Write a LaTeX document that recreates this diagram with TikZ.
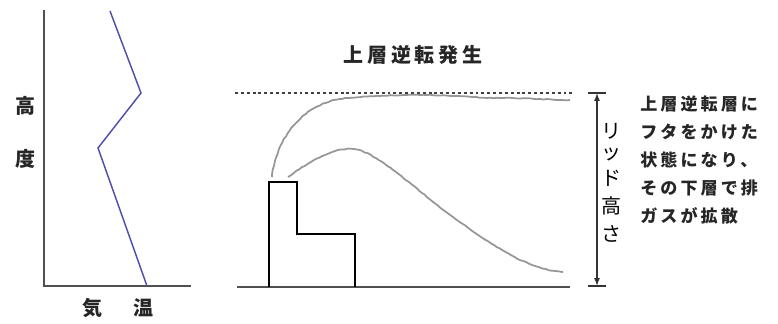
\documentclass[tikz,border=0pt]{standalone}
\usepackage{fontspec}
\setmainfont{Noto Sans CJK JP}
\newfontfamily\jptitle{Noto Sans CJK JP}[LetterSpace=19]
\newfontfamily\jpnote{Noto Sans CJK JP}[LetterSpace=18]
\usetikzlibrary{arrows.meta,decorations.pathmorphing}
\definecolor{axisgray}{RGB}{80,80,80}
\definecolor{profileblue}{RGB}{80,80,170}
\definecolor{plumegray}{RGB}{150,150,150}
\tikzset{
  axisline/.style={draw=axisgray,line width=1.5pt},
  profile/.style={draw=profileblue,line width=1.1pt,line join=miter},
  groundline/.style={draw=axisgray,line width=1.4pt},
  stack/.style={draw=black,line width=1.4pt,line join=miter},
  plume/.style={draw=plumegray,line width=1.3pt,line join=round,
    decorate,decoration={random steps,segment length=2.5pt,amplitude=0.3pt}},
  lidline/.style={draw=black!75,line width=0.9pt,dash pattern=on 2.2pt off 2.2pt},
  lidarrow/.style={draw=black!80,line width=0.9pt,{Latex[length=6pt,width=4.5pt]}-{Latex[length=6pt,width=4.5pt]}},
  tick/.style={draw=black!80,line width=0.9pt},
  lbl/.style={inner sep=0pt,font=\bfseries\fontsize{15pt}{15pt}\selectfont,text=black!85},
  vlbl/.style={inner sep=0pt,font=\fontsize{15pt}{15pt}\selectfont},
  titlelbl/.style={inner sep=0pt,font=\jptitle\bfseries\fontsize{15pt}{15pt}\selectfont,text=black!85},
  notelbl/.style={inner sep=0pt,anchor=west,font=\jpnote\bfseries\fontsize{12.8pt}{12.8pt}\selectfont,text=black!85},
}
\begin{document}
\begin{tikzpicture}[x=0.75pt,y=-0.75pt]
\useasboundingbox (0,0) rectangle (778,324);
\pgfmathsetseed{3}

% ---- temperature profile ----
\coordinate (ytop) at (44,10);
\coordinate (origin) at (44,286);
\coordinate (xend) at (191,286);
\draw[axisline] (ytop) -- (origin) -- (xend);

\coordinate (p0) at (110,11);
\coordinate (p1) at (141,93);
\coordinate (p2) at (98,148);
\coordinate (p3) at (147,286);
\draw[profile] (p0) -- (p1) -- (p2) -- (p3);

\node[lbl] (hi) at (26,106) {高};
\node[lbl] (do) at (26,159) {度};
\node[lbl] (ki) at (92,308) {気};
\node[lbl] (on) at (143,308) {温};

% ---- plume under an elevated inversion ----
\node[titlelbl] (title) at (413,55) {上層逆転発生};

\coordinate (lidL) at (235,93);
\coordinate (lidR) at (572,93);
\draw[lidline] (lidL) -- (lidR);

\coordinate (gL) at (237,287);
\coordinate (gR) at (570,287);
\draw[groundline] (gL) -- (gR);

\coordinate (b0) at (269,287);
\coordinate (b1) at (269,182);
\coordinate (b2) at (297,182);
\coordinate (b3) at (297,234);
\coordinate (b4) at (355,234);
\coordinate (b5) at (355,287);
\draw[stack] (b0) -- (b1) -- (b2) -- (b3) -- (b4) -- (b5);

% upper edge of the plume, capped by the inversion
\coordinate (u0) at (272,177);
\coordinate (u1) at (347,98);
\coordinate (u2) at (420,95);
\coordinate (u3) at (500,98);
\coordinate (u4) at (570,100);
\draw[plume] (u0) .. controls (275,143) and (300,102) .. (u1)
  .. controls (370,96) and (395,95) .. (u2)
  .. controls (450,95) and (475,98) .. (u3)
  .. controls (530,98) and (550,100) .. (u4);
% lower edge of the plume, mixing down to the ground
\coordinate (l0) at (288,177);
\coordinate (l1) at (352,149);
\coordinate (l2) at (453,217);
\coordinate (l3) at (563,272);
\draw[plume] (l0) .. controls (305,165) and (330,148) .. (l1)
  .. controls (375,150) and (410,185) .. (l2)
  .. controls (495,248) and (530,270) .. (l3);

% lid height marker
\coordinate (aTop) at (597,93);
\coordinate (aBot) at (597,286);
\coordinate (tTopL) at (588,93);
\coordinate (tTopR) at (606,93);
\coordinate (tBotL) at (588,286);
\coordinate (tBotR) at (606,286);
\draw[tick] (tTopL) -- (tTopR);
\draw[tick] (tBotL) -- (tBotR);
\draw[lidarrow] (aTop) -- (aBot);

\node[vlbl] (v1) at (611,131) {リ};
\node[vlbl] (v2) at (611,154) {ッ};
\node[vlbl] (v3) at (611,178) {ド};
\node[vlbl] (v4) at (611,206) {高};
\node[vlbl] (v5) at (611,234) {さ};

% explanatory note
\node[notelbl] (n1) at (640,104) {上層逆転層に};
\node[notelbl] (n2) at (640,132) {フタをかけた};
\node[notelbl] (n3) at (640,160) {状態になり、};
\node[notelbl] (n4) at (640,188) {その下層で排};
\node[notelbl] (n5) at (640,216) {ガスが拡散};
\end{tikzpicture}
\end{document}
